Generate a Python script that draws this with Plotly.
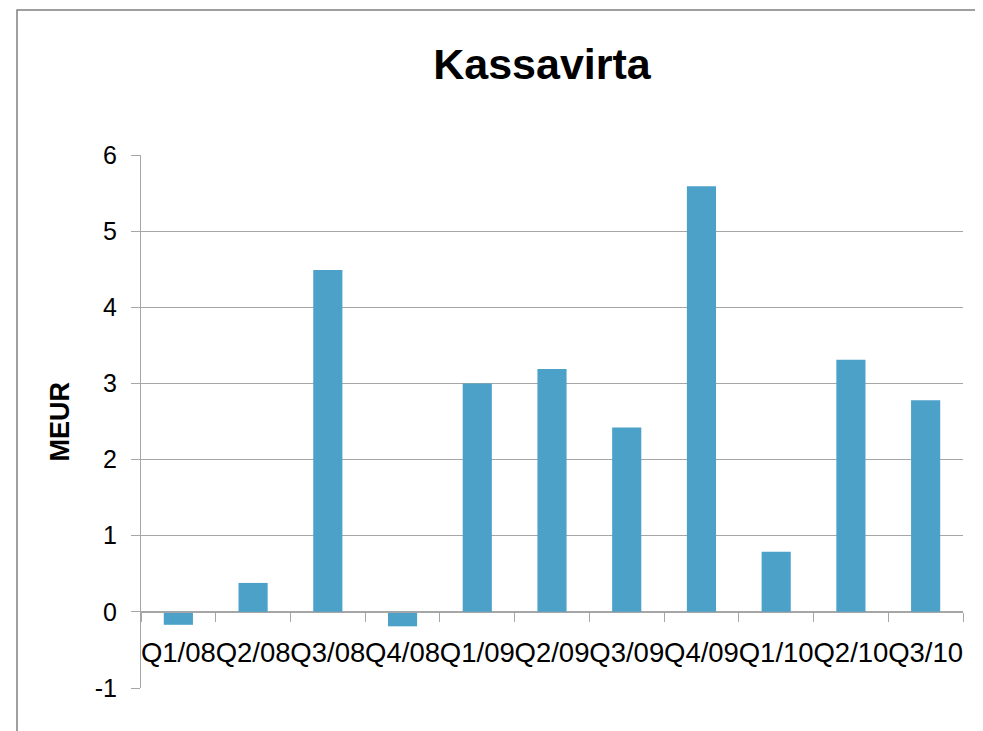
import plotly.graph_objects as go

quarters = ['Q1/08', 'Q2/08', 'Q3/08', 'Q4/08', 'Q1/09', 'Q2/09',
            'Q3/09', 'Q4/09', 'Q1/10', 'Q2/10', 'Q3/10']
cash_flow = [-0.17, 0.38, 4.49, -0.19, 3.0, 3.19, 2.42, 5.59, 0.79, 3.31, 2.78]
y_ticks = [-1, 0, 1, 2, 3, 4, 5, 6]

GRID = '#A6A6A6'
FONT = 'Liberation Sans, Arial, sans-serif'

# plot area: 822 x 533 px
L, T, W, H = 133, 147, 822, 533

fig = go.Figure(go.Bar(
    x=quarters, y=cash_flow,
    marker_color='#4BA1C8', marker_line_width=0,
))

fig.update_layout(
    width=983, height=731,
    margin=dict(l=L, r=983 - L - W, t=T, b=731 - T - H, autoexpand=False),
    plot_bgcolor='white', paper_bgcolor='white',
    bargap=0.61, showlegend=False,
    font=dict(family=FONT, color='black'),
    title=dict(text='<b>Kassavirta</b>', font=dict(size=43, color='black', family=FONT),
               x=534 / 983, xanchor='center', y=1 - 56 / 731, yanchor='middle'),
    xaxis=dict(
        anchor='free', position=1 / 7, tickson='boundaries', tickangle=0,
        ticks='outside', ticklen=9, tickcolor=GRID, tickwidth=1,
        showline=True, linecolor=GRID, linewidth=1, showgrid=False,
        tickfont=dict(size=27.5), ticklabelstandoff=16, automargin=False,
    ),
    yaxis=dict(
        range=[-1, 6], tickvals=y_ticks, ticktext=[str(v) for v in y_ticks],
        ticks='outside', ticklen=9,
        tickcolor=GRID, showline=True, linecolor=GRID, linewidth=1,
        showgrid=True, gridcolor=GRID, gridwidth=1, zeroline=False,
        tickfont=dict(size=25), ticklabelstandoff=9, automargin=False,
    ),
    annotations=[dict(
        text='<b>MEUR</b>', xref='paper', yref='paper', x=(51 - L) / W, y=0.5,
        textangle=-90, showarrow=False, font=dict(size=27, color='black'),
        xanchor='center', yanchor='middle',
    )],
    shapes=[dict(
        type='rect', xref='paper', yref='paper',
        x0=(9 - L) / W, x1=(974 - L) / W,
        y0=(T + H - 760) / H, y1=(T + H - 2) / H,
        line=dict(color='#808080', width=1.5), layer='below',
    )],
)

fig.write_html('out.html')
